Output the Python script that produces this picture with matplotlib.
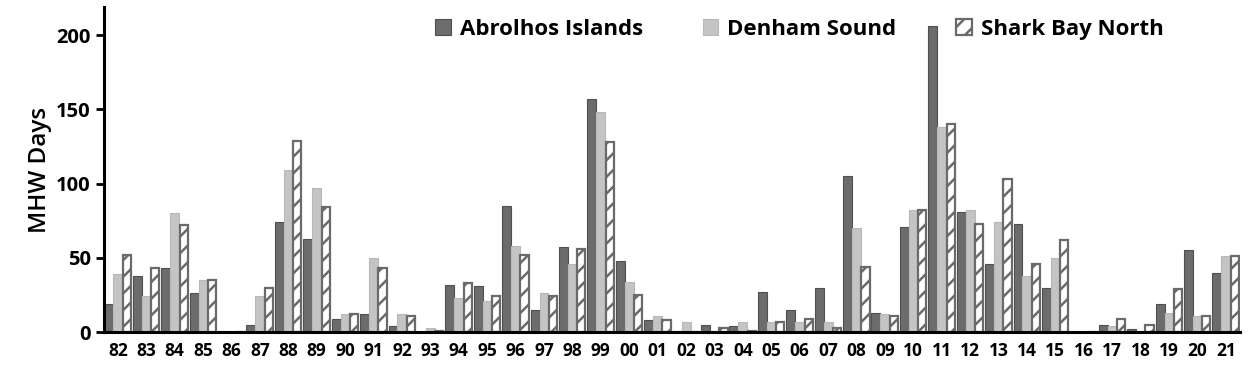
import matplotlib
matplotlib.use('Agg')
import matplotlib.pyplot as plt
import numpy as np

years = ['82', '83', '84', '85', '86', '87', '88', '89', '90', '91',
         '92', '93', '94', '95', '96', '97', '98', '99', '00', '01',
         '02', '03', '04', '05', '06', '07', '08', '09', '10', '11',
         '12', '13', '14', '15', '16', '17', '18', '19', '20', '21']

abrolhos = [19, 38, 43, 26, 1, 5, 74, 63, 9, 12,
            4, 0, 32, 31, 85, 15, 57, 157, 48, 8,
            1, 5, 4, 27, 15, 30, 105, 13, 71, 206,
            81, 46, 73, 30, 0, 5, 2, 19, 55, 40]

denham = [39, 24, 80, 35, 0, 24, 109, 97, 12, 50,
          12, 3, 23, 21, 58, 26, 46, 148, 34, 11,
          7, 1, 7, 7, 7, 7, 70, 12, 82, 138,
          82, 74, 38, 50, 0, 4, 1, 13, 11, 51]

shark_bay = [52, 43, 72, 35, 0, 30, 129, 84, 12, 43,
             11, 1, 33, 24, 52, 24, 56, 128, 25, 8,
             0, 3, 1, 7, 9, 3, 44, 11, 82, 140,
             73, 103, 46, 62, 0, 9, 5, 29, 11, 51]


def main() -> None:
    plt.rcParams['font.family'] = ['Open Sans', 'DejaVu Sans']
    plt.rcParams['hatch.linewidth'] = 1.8
    plt.rcParams['hatch.color'] = '#6a6a6a'

    fig = plt.figure(figsize=(12.48, 3.76), dpi=100)
    ax = fig.add_axes([0.0833, 0.117, 0.9103, 0.864])

    x = np.arange(len(years))
    w = 0.315

    ax.bar(x - w, abrolhos, w, color='#6c6c6c', edgecolor='#505050',
           linewidth=0.8, label='Abrolhos Islands')
    ax.bar(x, denham, w, color='#c4c4c4', edgecolor='#b8b8b8',
           linewidth=0.8, label='Denham Sound')
    ax.bar(x + w, shark_bay, w * 0.92, color='white', edgecolor='#6a6a6a',
           linewidth=1.6, hatch='//', label='Shark Bay North')

    ax.set_xlim(-0.49, len(years) - 0.5)
    ax.set_ylim(0, 219)
    ax.set_yticks([0, 50, 100, 150, 200])
    ax.set_xticks(x)
    ax.set_xticklabels(years)

    for s in ['top', 'right']:
        ax.spines[s].set_visible(False)
    for s in ['left', 'bottom']:
        ax.spines[s].set_linewidth(2.2)
        ax.spines[s].set_color('black')

    ax.tick_params(axis='x', length=0, pad=7, labelsize=12.5)
    ax.tick_params(axis='y', length=6, width=2, direction='out', labelsize=14.5)
    for lab in ax.get_xticklabels() + ax.get_yticklabels():
        lab.set_fontweight('bold')

    ax.set_ylabel('MHW Days', fontsize=17.5, fontweight='semibold', labelpad=3)

    ax.legend(loc='upper center', bbox_to_anchor=(0.612, 1.025), ncol=3,
              frameon=False, prop={'weight': 'bold', 'size': 16},
              handlelength=0.7, handleheight=0.7, handletextpad=0.4,
              columnspacing=2.7)

    fig.savefig('out.png', dpi=100)


if __name__ == '__main__':
    main()
